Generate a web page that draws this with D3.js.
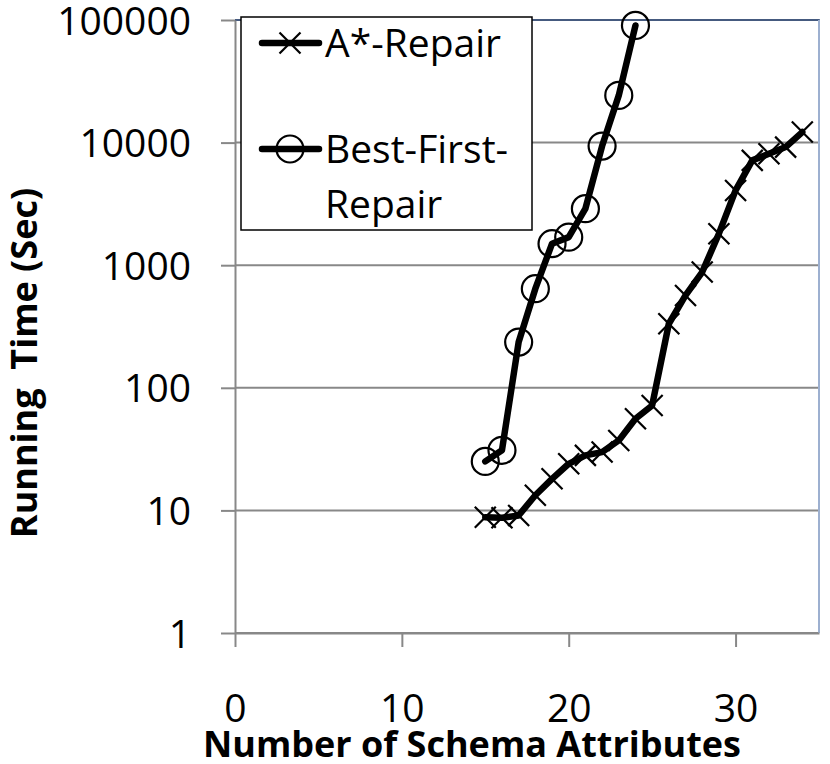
<!DOCTYPE html>
<html>
<head>
<meta charset="utf-8">
<script src="https://cdn.jsdelivr.net/npm/d3@7"></script>
<style>
  html, body { margin: 0; padding: 0; background: #fff; }
  text { font-family: "Open Sans", sans-serif; }
</style>
</head>
<body>
<div id="container"></div>
<script>
// data
const attrsAstar = [15, 16, 17, 18, 19, 20, 21, 22, 23, 24, 25, 26, 27, 28, 29, 30, 31, 32, 33, 34];
const timeAstar  = [8.8, 8.7, 9.1, 13.3, 18.1, 24, 28.1, 29.9, 37.2, 56, 71.8, 333, 567, 879, 1807, 4074, 7160, 8115, 9190, 12190];
const attrsBest  = [15, 16, 17, 18, 19, 20, 21, 22, 23, 24];
const timeBest   = [25.1, 30.9, 236, 643, 1497, 1694, 2890, 9370, 24270, 90300];
const xTicks = [0, 10, 20, 30];
const yTicks = [1, 10, 100, 1000, 10000, 100000];
const seriesNames = ['A*-Repair', 'Best-First-', 'Repair'];

const width = 830, height = 764;
const margin = { top: 20, right: 11, bottom: 131, left: 235 };
const w = width - margin.left - margin.right;
const h = height - margin.top - margin.bottom;

const svg = d3.select('#container').append('svg')
    .attr('width', width)
    .attr('height', height);
const g = svg.append('g')
    .attr('transform', `translate(${margin.left},${margin.top})`);

const x = d3.scaleLinear().domain([0, 35]).range([0, w]);
const y = d3.scaleLog().domain([1, 100000]).range([h, 0]);

// gridlines
g.selectAll('.grid').data(yTicks).enter().append('line')
    .attr('x1', 0).attr('x2', w)
    .attr('y1', d => y(d)).attr('y2', d => y(d))
    .attr('stroke', '#888').attr('stroke-width', 2);

// plot border (top and right)
g.append('line').attr('x1', 0).attr('x2', w + 1).attr('y1', 0).attr('y2', 0)
    .attr('stroke', '#2f4b7c').attr('stroke-width', 1.5);
g.append('line').attr('x1', w).attr('x2', w).attr('y1', 0).attr('y2', h)
    .attr('stroke', '#9db0d0').attr('stroke-width', 2);

// axes
const xAxis = g.append('g')
    .attr('transform', `translate(0,${h})`)
    .call(d3.axisBottom(x).tickValues(xTicks).tickFormat(d3.format('d')).tickSize(14).tickSizeOuter(0));
xAxis.selectAll('text').attr('y', 89).attr('dy', 0);

const yAxis = g.append('g')
    .call(d3.axisLeft(y).tickValues(yTicks).tickFormat(d3.format('d')).tickSize(14).tickSizeOuter(0));
yAxis.selectAll('text').attr('x', -44).attr('dy', '0.36em');

[xAxis, yAxis].forEach(a => {
  a.select('.domain').attr('stroke', '#888').attr('stroke-width', 2);
  a.selectAll('.tick line').attr('stroke', '#888').attr('stroke-width', 2);
  a.selectAll('text').attr('font-size', 39).attr('fill', '#000')
    .attr('font-family', '"Open Sans", sans-serif');
});

// series
const line = d3.line().x(d => x(d[0])).y(d => y(d[1]));
const astarPts = attrsAstar.map((a, i) => [a, timeAstar[i]]);
const bestPts = attrsBest.map((a, i) => [a, timeBest[i]]);

const cross = 'M-10.5,-10.5L10.5,10.5M-10.5,10.5L10.5,-10.5';

g.append('path').datum(astarPts)
    .attr('d', line).attr('fill', 'none').attr('stroke', '#000')
    .attr('stroke-width', 6.5).attr('stroke-linejoin', 'round').attr('stroke-linecap', 'round');
g.selectAll('.xmark').data(astarPts).enter().append('path')
    .attr('transform', d => `translate(${x(d[0])},${y(d[1])})`)
    .attr('d', cross).attr('stroke', '#000').attr('stroke-width', 2.2);

g.append('path').datum(bestPts)
    .attr('d', line).attr('fill', 'none').attr('stroke', '#000')
    .attr('stroke-width', 6.5).attr('stroke-linejoin', 'round').attr('stroke-linecap', 'round');
g.selectAll('.omark').data(bestPts).enter().append('circle')
    .attr('cx', d => x(d[0])).attr('cy', d => y(d[1])).attr('r', 13.5)
    .attr('fill', 'none').attr('stroke', '#000').attr('stroke-width', 2.2);

// legend
const lg = svg.append('g');
lg.append('rect').attr('x', 241).attr('y', 17).attr('width', 291).attr('height', 213)
    .attr('fill', '#fff').attr('stroke', '#000').attr('stroke-width', 1.5);
[43, 149].forEach((ly, i) => {
  lg.append('line').attr('x1', 262).attr('x2', 319).attr('y1', ly).attr('y2', ly)
      .attr('stroke', '#000').attr('stroke-width', 6.5).attr('stroke-linecap', 'round');
  if (i === 0) {
    lg.append('path').attr('transform', `translate(290,${ly})`).attr('d', cross)
        .attr('stroke', '#000').attr('stroke-width', 2.2);
  } else {
    lg.append('circle').attr('cx', 290).attr('cy', ly).attr('r', 13.5)
        .attr('fill', 'none').attr('stroke', '#000').attr('stroke-width', 2.2);
  }
});
lg.selectAll('.ltext').data(seriesNames).enter().append('text')
    .attr('x', 325).attr('y', (d, i) => [57, 163, 218][i])
    .attr('font-size', 39).attr('fill', '#000')
    .text(d => d);

// axis titles
svg.append('text')
    .attr('x', 472).attr('y', 757)
    .attr('text-anchor', 'middle').attr('font-size', 36).attr('font-weight', 'bold')
    .text('Number of Schema Attributes');
svg.append('text')
    .attr('transform', 'translate(37,363) rotate(-90)')
    .attr('text-anchor', 'middle').attr('font-size', 36).attr('font-weight', 'bold')
    .style('white-space', 'pre')
    .text('Running  Time (Sec)');
</script>
</body>
</html>
